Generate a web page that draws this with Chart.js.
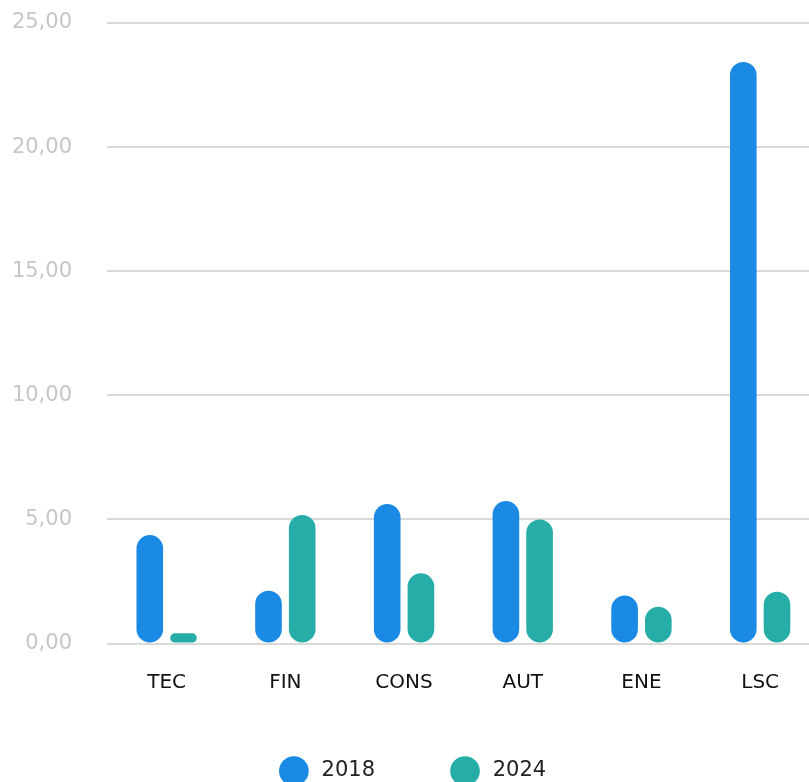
<!DOCTYPE html>
<html>
<head>
<meta charset="utf-8">
<script src="https://cdn.jsdelivr.net/npm/chart.js@4.4.1/dist/chart.umd.min.js"></script>
<style>
  html, body { margin: 0; padding: 0; background: #fff; overflow: hidden; }
  #wrap { width: 830px; height: 800px; position: relative; }
</style>
</head>
<body>
<div id="wrap"><canvas id="sectorChart"></canvas></div>
<script>
// Sector values, 2018 vs 2024
const sectors = ['TEC', 'FIN', 'CONS', 'AUT', 'ENE', 'LSC'];
const values2018 = [4.37, 2.13, 5.62, 5.74, 1.93, 23.43];
const values2024 = [0.41, 5.18, 2.83, 5.00, 1.48, 2.09];
const seriesNames = ['2018', '2024'];

const FONT = 'DejaVu Sans';

new Chart(document.getElementById('sectorChart').getContext('2d'), {
    type: 'bar',
    data: {
        labels: sectors,
        datasets: [
            { label: seriesNames[0], data: values2018, backgroundColor: '#1b8ae4' },
            { label: seriesNames[1], data: values2024, backgroundColor: '#27ada8' }
        ]
    },
    options: {
        responsive: true,
        maintainAspectRatio: false,
        animation: false,
        layout: { padding: { top: 23, left: 10, right: 10.5, bottom: 8.5 } },
        datasets: {
            bar: {
                categoryPercentage: 0.568,
                barPercentage: 0.79,
                borderRadius: 20,
                borderSkipped: false
            }
        },
        scales: {
            x: {
                grid: { display: false, drawTicks: false },
                border: { display: false },
                ticks: {
                    // mirrored so the labels are not clipped to the short axis box;
                    // a negative padding pushes them back below the bars
                    mirror: true,
                    padding: -51.5,
                    color: '#111',
                    font: { family: FONT, size: 20 }
                },
                afterFit: (scale) => { scale.height = 37.5; }
            },
            y: {
                min: 0,
                max: 25,
                grid: { color: '#d9d9d9', lineWidth: 2, drawTicks: false },
                border: { display: false },
                ticks: {
                    stepSize: 5,
                    padding: 35.3,
                    color: '#c6c6c6',
                    font: { family: FONT, size: 21 },
                    callback: (v) => v.toFixed(2).replace('.', ',')
                },
                afterFit: (scale) => {
                    scale.width = 97.3;
                    scale.paddingTop = 0;
                    scale.paddingBottom = 0;
                }
            }
        },
        plugins: {
            tooltip: { enabled: false },
            legend: {
                position: 'bottom',
                labels: {
                    usePointStyle: true,
                    pointStyle: 'circle',
                    padding: 79.5,
                    color: '#222',
                    font: { family: FONT, size: 21 },
                    // a little air between the dot and the year
                    generateLabels: (chart) =>
                        Chart.defaults.plugins.legend.labels.generateLabels(chart)
                            .map(item => Object.assign(item, { text: ' ' + item.text }))
                }
            }
        }
    }
});
</script>
</body>
</html>
